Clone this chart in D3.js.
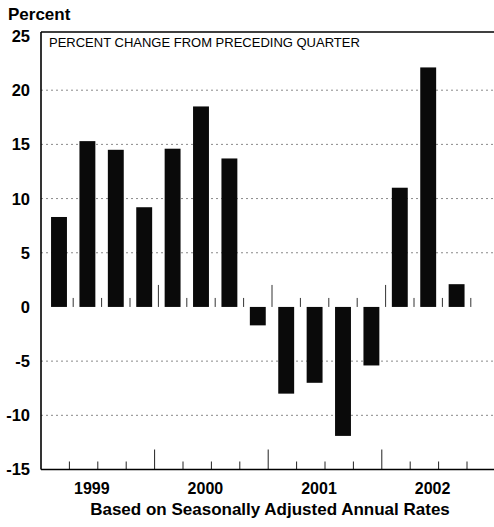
<!DOCTYPE html>
<html>
<head>
<meta charset="utf-8">
<script src="https://cdn.jsdelivr.net/npm/d3@7"></script>
<style>
  html, body { margin: 0; padding: 0; background: #fff; }
  svg { display: block; }
  text { font-family: "Liberation Sans", Arial, Helvetica, sans-serif; fill: #000; }
</style>
</head>
<body>
<script>
// ---- data ----
const quarters = ["1999Q1","1999Q2","1999Q3","1999Q4",
                  "2000Q1","2000Q2","2000Q3","2000Q4",
                  "2001Q1","2001Q2","2001Q3","2001Q4",
                  "2002Q1","2002Q2","2002Q3","2002Q4"];
const barQuarters = quarters.slice(0, 15);
const values = [8.3, 15.3, 14.5, 9.2,
                14.6, 18.5, 13.7, -1.7,
                -8.0, -7.0, -11.9, -5.4,
                11.0, 22.1, 2.1];
const years = ["1999","2000","2001","2002"];
const yTicks = [25, 20, 15, 10, 5, 0, -5, -10, -15];
const yTickLabels = ["25","20","15","10","5","0","-5","-10","-15"];
const gridValues = [20, 15, 10, 5, -5, -10];

// ---- layout ----
const W = 494, H = 527;
const left = 41, step = 28.4, barShift = 3.8;
const frameTop = 32, plotRight = 494;

const svg = d3.select("body").append("svg").attr("width", W).attr("height", H);

const y = d3.scaleLinear().domain([-15, 25]).range([469.5, 36]);
const xAxis = d3.scaleBand().domain(quarters).range([left, left + step * quarters.length]).padding(0);
const xBar = d3.scaleBand().domain(quarters)
  .range([left + barShift, left + barShift + step * quarters.length])
  .paddingInner(0.44).paddingOuter(0.22);

// gridlines (dotted)
svg.append("g").selectAll("line").data(gridValues).join("line")
  .attr("x1", left).attr("x2", plotRight)
  .attr("y1", d => y(d)).attr("y2", d => y(d))
  .attr("stroke", "#8a8a8a").attr("stroke-width", 1)
  .attr("stroke-dasharray", "2,3");

// bars
svg.append("g").selectAll("rect").data(barQuarters).join("rect")
  .attr("x", q => xBar(q))
  .attr("width", xBar.bandwidth())
  .attr("y", (q, i) => y(Math.max(0, values[i])))
  .attr("height", (q, i) => Math.abs(y(values[i]) - y(0)))
  .attr("fill", "#0a0a0a");

// ticks on the zero line (quarter boundaries, taller at year boundaries)
svg.append("g").selectAll("line").data(quarters.slice(1)).join("line")
  .attr("x1", q => xAxis(q) + barShift).attr("x2", q => xAxis(q) + barShift)
  .attr("y1", y(0))
  .attr("y2", q => q.endsWith("Q1") ? y(0) - 22 : y(0) - 9)
  .attr("stroke", "#333").attr("stroke-width", 1);

// bottom axis ticks
svg.append("g").selectAll("line").data(quarters.slice(1)).join("line")
  .attr("x1", q => xAxis(q)).attr("x2", q => xAxis(q))
  .attr("y1", y(-15))
  .attr("y2", q => q.endsWith("Q1") ? y(-15) - 20 : y(-15) - 8)
  .attr("stroke", "#222").attr("stroke-width", 1);

// frame: left, top, bottom
svg.append("line").attr("x1", left).attr("x2", left).attr("y1", frameTop).attr("y2", y(-15))
  .attr("stroke", "#000").attr("stroke-width", 1.6);
svg.append("line").attr("x1", left).attr("x2", plotRight).attr("y1", frameTop).attr("y2", frameTop)
  .attr("stroke", "#000").attr("stroke-width", 1.4);
svg.append("line").attr("x1", left).attr("x2", plotRight).attr("y1", y(-15)).attr("y2", y(-15))
  .attr("stroke", "#000").attr("stroke-width", 1.6);

// y tick labels
svg.append("g").selectAll("text").data(yTicks).join("text")
  .attr("x", 30).attr("y", d => y(d)).attr("dy", "0.36em")
  .attr("text-anchor", "end")
  .style("font-size", "16.5px").style("font-weight", "bold")
  .text((d, i) => yTickLabels[i]);

// year labels
svg.append("g").selectAll("text").data(years).join("text")
  .attr("x", yr => xAxis(yr + "Q1") + 2 * step - 6)
  .attr("y", 494)
  .attr("text-anchor", "middle")
  .style("font-size", "16px").style("font-weight", "bold")
  .text(d => d);

// titles
svg.append("text").attr("x", 8).attr("y", 20)
  .style("font-size", "17px").style("font-weight", "bold").text("Percent");
svg.append("text").attr("x", 49).attr("y", 46.5)
  .style("font-size", "13px").text("PERCENT CHANGE FROM PRECEDING QUARTER");
svg.append("text").attr("x", 270).attr("y", 515).attr("text-anchor", "middle")
  .style("font-size", "17px").style("font-weight", "bold")
  .text("Based on Seasonally Adjusted Annual Rates");
</script>
</body>
</html>
